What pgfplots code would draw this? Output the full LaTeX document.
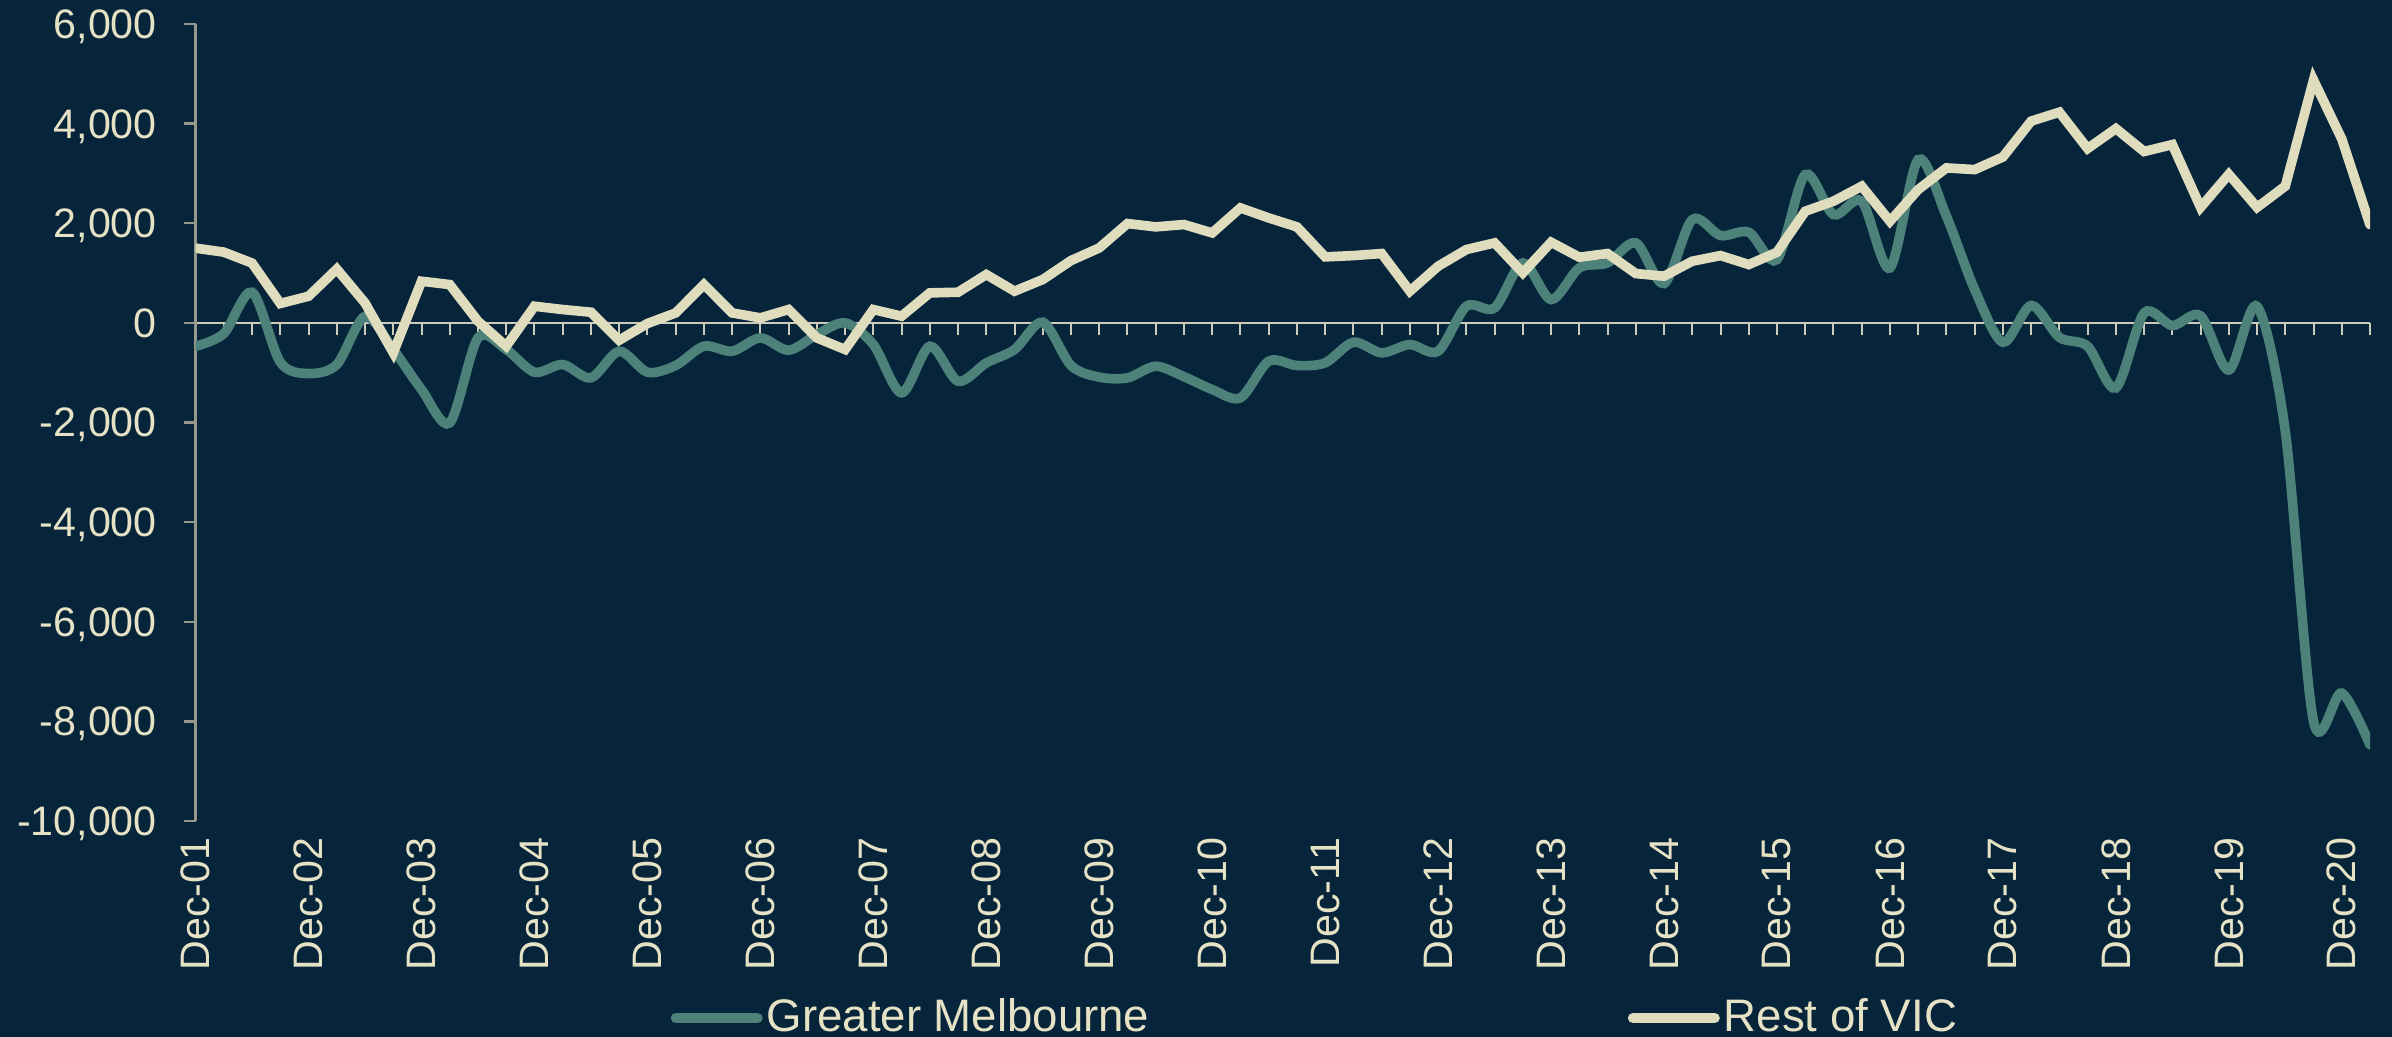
\documentclass[border=0pt]{standalone}
\usepackage{fontspec}
\setmainfont{Liberation Sans}
\usepackage{pgfplots}
\pgfplotsset{compat=1.18}
\definecolor{bg}{RGB}{6,36,58}
\definecolor{teal2}{RGB}{76,130,121}
\definecolor{cream}{RGB}{224,221,191}
\definecolor{txt}{RGB}{230,226,198}
\definecolor{axcol}{RGB}{150,152,140}
\definecolor{zerocol}{RGB}{205,203,185}

\pgfplotstableread{
i melb rest
0 -470 1500
1 -214 1420
2 615 1200
3 -790 390
4 -1017 535
5 -836 1080
6 130 400
7 -535 -600
8 -1338 836
9 -2007 769
10 -301 33
11 -535 -468
12 -990 334
13 -836 268
14 -1104 214
15 -569 -348
16 -990 -13
17 -856 200
18 -468 769
19 -569 200
20 -301 100
21 -549 268
22 -234 -301
23 0 -535
24 -435 268
25 -1405 134
26 -468 602
27 -1171 615
28 -803 970
29 -535 636
30 13 870
31 -856 1251
32 -1090 1505
33 -1104 1994
34 -870 1927
35 -1080 1974
36 -1338 1806
37 -1505 2308
38 -769 2107
39 -856 1927
40 -803 1325
41 -388 1351
42 -602 1392
43 -435 636
44 -569 1137
45 334 1472
46 301 1606
47 1204 1004
48 468 1619
49 1104 1318
50 1204 1392
51 1606 990
52 790 937
53 2074 1238
54 1753 1351
55 1820 1171
56 1271 1418
57 2977 2241
58 2174 2442
59 2442 2743
60 1104 2040
61 3278 2676
62 2141 3111
63 669 3077
64 -390 3330
65 350 4050
66 -290 4230
67 -470 3500
68 -1306 3900
69 200 3440
70 -55 3579
71 142 2319
72 -947 2982
73 331 2319
74 -2177 2745
75 -8000 4875
76 -7432 3692
77 -8473 1969
}\datatable

\begin{document}
\begin{tikzpicture}
\fill[bg] (-48.9bp,-54bp) rectangle (549.1bp,205.25bp);
\useasboundingbox (-48.9bp,-54bp) rectangle (549.1bp,205.25bp);

% axis carrying only the bottom category labels
\begin{axis}[
  at={(0,0)}, anchor=south west, scale only axis,
  width=543.6bp, height=199.25bp,
  xmin=0, xmax=77, ymin=-10000, ymax=6000,
  axis x line=bottom, axis y line=none,
  x axis line style={draw=none},
  xtick={0,4,...,76},
  xticklabels={Dec-01,Dec-02,Dec-03,Dec-04,Dec-05,Dec-06,Dec-07,Dec-08,Dec-09,Dec-10,Dec-11,Dec-12,Dec-13,Dec-14,Dec-15,Dec-16,Dec-17,Dec-18,Dec-19,Dec-20},
  major tick length=0pt,
  xticklabel shift=4bp,
  xticklabel style={rotate=90, anchor=east, inner sep=0pt, text=txt,
    font=\fontsize{10.3bp}{12bp}\selectfont},
  ytick=\empty,
]
\end{axis}

\begin{axis}[
  at={(0,0)}, anchor=south west, scale only axis,
  width=543.6bp, height=199.25bp,
  xmin=0, xmax=77, ymin=-10000, ymax=6000,
  axis x line=middle, axis y line=left,
  axis line style={-},
  x axis line style={draw=zerocol, line width=0.6bp},
  y axis line style={draw=axcol, line width=0.6bp},
  xtick={0,...,77}, xticklabels={},
  xtick align=center,
  x tick style={draw=zerocol, line width=0.5bp, yshift=-1.5bp},
  ytick={-10000,-8000,...,6000},
  yticklabels={{-10,000},{-8,000},{-6,000},{-4,000},{-2,000},{0},{2,000},{4,000},{6,000}},
  ytick align=outside,
  y tick style={draw=axcol, line width=0.6bp},
  major tick length=3bp,
  yticklabel style={anchor=east, inner sep=0pt, text depth=0pt, text=txt,
    font=\fontsize{10.3bp}{12bp}\selectfont},
  yticklabel shift=6.5bp,
  legend columns=2,
  legend style={draw=none, fill=none, inner sep=0pt, outer sep=0pt,
    at={(axis description cs:0.2185,-0.2472)}, anchor=west,
    font=\fontsize{11.4bp}{13bp}\selectfont, text=txt,
    nodes={inner sep=1bp},
    /tikz/every even column/.append style={column sep=118.6bp}},
  legend image code/.code={\draw[#1, line width=2.6bp, line cap=round] (1.3bp,0bp) -- (21.7bp,0bp);},
]
\addplot[teal2, line width=2.4bp, line cap=round, smooth] table[x=i, y=melb] {\datatable};
\addlegendentry{Greater Melbourne}
\addplot[cream, line width=2.4bp, line cap=round] table[x=i, y=rest] {\datatable};
\addlegendentry{Rest of VIC}
\end{axis}
\end{tikzpicture}
\end{document}
